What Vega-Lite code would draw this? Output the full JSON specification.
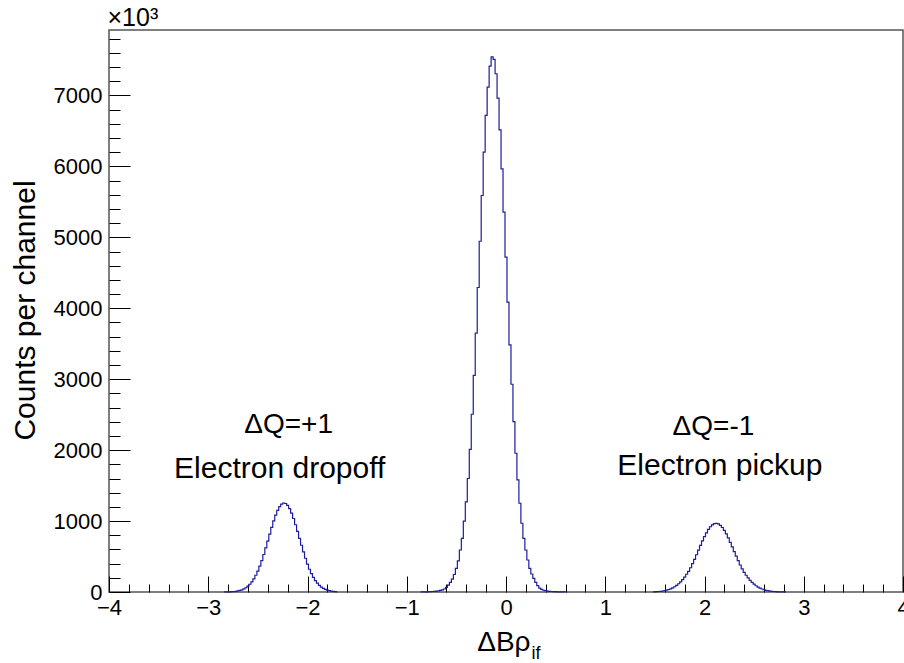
{
  "$schema": "https://vega.github.io/schema/vega-lite/v6.json",
  "width": 794,
  "height": 562,
  "autosize": {"type": "none"},
  "padding": {"left": 109, "top": 30, "right": 1, "bottom": 71},
  "background": "white",
  "config": {
    "aria": false,
    "font": "Liberation Sans",
    "view": {"stroke": "#555555", "strokeWidth": 1.5}
  },
  "resolve": {"axis": {"x": "independent", "y": "independent"}},
  "layer": [
    {
      "data": {"values": [
        {"p":"a","x":-2.84,"n":1},{"p":"a","x":-2.82,"n":2},{"p":"a","x":-2.80,"n":2},{"p":"a","x":-2.78,"n":3},{"p":"a","x":-2.76,"n":4},{"p":"a","x":-2.74,"n":6},{"p":"a","x":-2.72,"n":10},{"p":"a","x":-2.70,"n":15},{"p":"a","x":-2.68,"n":22},{"p":"a","x":-2.66,"n":31},{"p":"a","x":-2.64,"n":44},{"p":"a","x":-2.62,"n":60},{"p":"a","x":-2.60,"n":82},{"p":"a","x":-2.58,"n":109},{"p":"a","x":-2.56,"n":143},{"p":"a","x":-2.54,"n":186},{"p":"a","x":-2.52,"n":236},{"p":"a","x":-2.50,"n":295},{"p":"a","x":-2.48,"n":364},{"p":"a","x":-2.46,"n":442},{"p":"a","x":-2.44,"n":529},{"p":"a","x":-2.42,"n":621},{"p":"a","x":-2.40,"n":718},{"p":"a","x":-2.38,"n":815},{"p":"a","x":-2.36,"n":911},{"p":"a","x":-2.34,"n":1002},{"p":"a","x":-2.32,"n":1084},{"p":"a","x":-2.30,"n":1152},{"p":"a","x":-2.28,"n":1205},{"p":"a","x":-2.26,"n":1240},{"p":"a","x":-2.24,"n":1255},{"p":"a","x":-2.22,"n":1248},{"p":"a","x":-2.20,"n":1222},{"p":"a","x":-2.18,"n":1176},{"p":"a","x":-2.16,"n":1113},{"p":"a","x":-2.14,"n":1036},{"p":"a","x":-2.12,"n":948},{"p":"a","x":-2.10,"n":854},{"p":"a","x":-2.08,"n":757},{"p":"a","x":-2.06,"n":659},{"p":"a","x":-2.04,"n":565},{"p":"a","x":-2.02,"n":476},{"p":"a","x":-2.00,"n":394},{"p":"a","x":-1.98,"n":321},{"p":"a","x":-1.96,"n":258},{"p":"a","x":-1.94,"n":205},{"p":"a","x":-1.92,"n":160},{"p":"a","x":-1.90,"n":124},{"p":"a","x":-1.88,"n":94},{"p":"a","x":-1.86,"n":70},{"p":"a","x":-1.84,"n":52},{"p":"a","x":-1.82,"n":38},{"p":"a","x":-1.80,"n":27},{"p":"a","x":-1.78,"n":19},{"p":"a","x":-1.76,"n":13},{"p":"a","x":-1.74,"n":8},{"p":"a","x":-1.72,"n":5},{"p":"a","x":-1.70,"n":3},
        {"p":"b","x":-0.86,"n":2},{"p":"b","x":-0.84,"n":2},{"p":"b","x":-0.82,"n":3},{"p":"b","x":-0.80,"n":3},{"p":"b","x":-0.78,"n":4},{"p":"b","x":-0.76,"n":5},{"p":"b","x":-0.74,"n":7},{"p":"b","x":-0.72,"n":9},{"p":"b","x":-0.70,"n":12},{"p":"b","x":-0.68,"n":16},{"p":"b","x":-0.66,"n":22},{"p":"b","x":-0.64,"n":30},{"p":"b","x":-0.62,"n":42},{"p":"b","x":-0.60,"n":65},{"p":"b","x":-0.58,"n":96},{"p":"b","x":-0.56,"n":135},{"p":"b","x":-0.54,"n":181},{"p":"b","x":-0.52,"n":247},{"p":"b","x":-0.50,"n":334},{"p":"b","x":-0.48,"n":440},{"p":"b","x":-0.46,"n":592},{"p":"b","x":-0.44,"n":757},{"p":"b","x":-0.42,"n":1000},{"p":"b","x":-0.40,"n":1270},{"p":"b","x":-0.38,"n":1600},{"p":"b","x":-0.36,"n":2010},{"p":"b","x":-0.34,"n":2506},{"p":"b","x":-0.32,"n":3053},{"p":"b","x":-0.30,"n":3650},{"p":"b","x":-0.28,"n":4293},{"p":"b","x":-0.26,"n":4945},{"p":"b","x":-0.24,"n":5590},{"p":"b","x":-0.22,"n":6202},{"p":"b","x":-0.20,"n":6718},{"p":"b","x":-0.18,"n":7118},{"p":"b","x":-0.16,"n":7415},{"p":"b","x":-0.14,"n":7545},{"p":"b","x":-0.12,"n":7510},{"p":"b","x":-0.10,"n":7306},{"p":"b","x":-0.08,"n":6963},{"p":"b","x":-0.06,"n":6516},{"p":"b","x":-0.04,"n":5966},{"p":"b","x":-0.02,"n":5355},{"p":"b","x":0.00,"n":4722},{"p":"b","x":0.02,"n":4087},{"p":"b","x":0.04,"n":3484},{"p":"b","x":0.06,"n":2929},{"p":"b","x":0.08,"n":2402},{"p":"b","x":0.10,"n":1956},{"p":"b","x":0.12,"n":1580},{"p":"b","x":0.14,"n":1251},{"p":"b","x":0.16,"n":969},{"p":"b","x":0.18,"n":757},{"p":"b","x":0.20,"n":592},{"p":"b","x":0.22,"n":451},{"p":"b","x":0.24,"n":334},{"p":"b","x":0.26,"n":254},{"p":"b","x":0.28,"n":193},{"p":"b","x":0.30,"n":137},{"p":"b","x":0.32,"n":89},{"p":"b","x":0.34,"n":56},{"p":"b","x":0.36,"n":36},{"p":"b","x":0.38,"n":25},{"p":"b","x":0.40,"n":18},{"p":"b","x":0.42,"n":13},{"p":"b","x":0.44,"n":10},{"p":"b","x":0.46,"n":7},{"p":"b","x":0.48,"n":5},{"p":"b","x":0.50,"n":4},{"p":"b","x":0.52,"n":3},{"p":"b","x":0.54,"n":3},{"p":"b","x":0.56,"n":2},{"p":"b","x":0.58,"n":2},{"p":"b","x":0.60,"n":1},
        {"p":"c","x":1.48,"n":2},{"p":"c","x":1.50,"n":3},{"p":"c","x":1.52,"n":5},{"p":"c","x":1.54,"n":7},{"p":"c","x":1.56,"n":10},{"p":"c","x":1.58,"n":14},{"p":"c","x":1.60,"n":19},{"p":"c","x":1.62,"n":26},{"p":"c","x":1.64,"n":35},{"p":"c","x":1.66,"n":45},{"p":"c","x":1.68,"n":58},{"p":"c","x":1.70,"n":74},{"p":"c","x":1.72,"n":93},{"p":"c","x":1.74,"n":116},{"p":"c","x":1.76,"n":143},{"p":"c","x":1.78,"n":175},{"p":"c","x":1.80,"n":210},{"p":"c","x":1.82,"n":250},{"p":"c","x":1.84,"n":292},{"p":"c","x":1.86,"n":342},{"p":"c","x":1.88,"n":399},{"p":"c","x":1.90,"n":461},{"p":"c","x":1.92,"n":525},{"p":"c","x":1.94,"n":590},{"p":"c","x":1.96,"n":656},{"p":"c","x":1.98,"n":720},{"p":"c","x":2.00,"n":780},{"p":"c","x":2.02,"n":834},{"p":"c","x":2.04,"n":882},{"p":"c","x":2.06,"n":920},{"p":"c","x":2.08,"n":947},{"p":"c","x":2.10,"n":964},{"p":"c","x":2.12,"n":968},{"p":"c","x":2.14,"n":960},{"p":"c","x":2.16,"n":940},{"p":"c","x":2.18,"n":909},{"p":"c","x":2.20,"n":868},{"p":"c","x":2.22,"n":819},{"p":"c","x":2.24,"n":763},{"p":"c","x":2.26,"n":701},{"p":"c","x":2.28,"n":637},{"p":"c","x":2.30,"n":570},{"p":"c","x":2.32,"n":505},{"p":"c","x":2.34,"n":442},{"p":"c","x":2.36,"n":381},{"p":"c","x":2.38,"n":325},{"p":"c","x":2.40,"n":276},{"p":"c","x":2.42,"n":236},{"p":"c","x":2.44,"n":198},{"p":"c","x":2.46,"n":165},{"p":"c","x":2.48,"n":135},{"p":"c","x":2.50,"n":110},{"p":"c","x":2.52,"n":88},{"p":"c","x":2.54,"n":70},{"p":"c","x":2.56,"n":55},{"p":"c","x":2.58,"n":42},{"p":"c","x":2.60,"n":32},{"p":"c","x":2.62,"n":24},{"p":"c","x":2.64,"n":18},{"p":"c","x":2.66,"n":13},{"p":"c","x":2.68,"n":9},{"p":"c","x":2.70,"n":7},{"p":"c","x":2.72,"n":5},{"p":"c","x":2.74,"n":3},{"p":"c","x":2.76,"n":2},{"p":"c","x":2.78,"n":2},{"p":"c","x":2.80,"n":1},{"p":"c","x":2.82,"n":1}
      ]},
      "mark": {"type": "line", "interpolate": "step", "color": "#1c1ca0", "strokeWidth": 1.2, "aria": false},
      "encoding": {
        "x": {
          "field": "x", "type": "quantitative",
          "scale": {"domain": [-4, 4], "nice": false, "zero": false},
          "axis": {
            "orient": "bottom",
            "values": [-4, -3, -2, -1, 0, 1, 2, 3, 4],
            "format": "d",
            "domain": false, "grid": false,
            "tickSize": -16, "tickColor": "#000000", "tickWidth": 1,
            "labelFontSize": 22, "labelColor": "#000000", "labelPadding": 21,
            "labelFlush": false, "labelOverlap": false, "labelBound": false,
            "title": "ΔBρ", "titleFontSize": 28, "titleFontWeight": "normal", "titleColor": "#000000",
            "titleAlign": "right", "titleBaseline": "alphabetic",
            "titleX": 421, "titleY": 58
          }
        },
        "y": {
          "field": "n", "type": "quantitative",
          "scale": {"domain": [0, 7923], "nice": false, "zero": true},
          "axis": {
            "orient": "left",
            "values": [0, 1000, 2000, 3000, 4000, 5000, 6000, 7000],
            "format": "d",
            "domain": false, "grid": false,
            "tickSize": -21, "tickColor": "#000000", "tickWidth": 1,
            "labelFontSize": 22, "labelColor": "#000000", "labelPadding": 28,
            "labelOverlap": false, "labelBound": false,
            "title": "Counts per channel", "titleFontSize": 30, "titleFontWeight": "normal", "titleColor": "#000000",
            "titleAngle": -90, "titleAlign": "center", "titleBaseline": "middle",
            "titleX": -84, "titleY": 280
          }
        },
        "detail": {"field": "p"}
      }
    },
    {
      "data": {"values": [
        {"label": "ΔQ=+1", "x": -2.19, "y": 2360, "s": "q"},
        {"label": "Electron dropoff", "x": -2.28, "y": 1730, "s": "e"},
        {"label": "ΔQ=-1", "x": 2.09, "y": 2330, "s": "q"},
        {"label": "Electron pickup", "x": 2.155, "y": 1775, "s": "e"}
      ]},
      "mark": {"type": "text", "align": "center", "baseline": "middle", "color": "#000000", "aria": false},
      "encoding": {
        "text": {"field": "label"},
        "size": {"field": "s", "type": "nominal", "scale": {"domain": ["q", "e"], "range": [28, 30]}, "legend": null},
        "x": {
          "field": "x", "type": "quantitative",
          "axis": {
            "orient": "bottom",
            "values": [-3.8,-3.6,-3.4,-3.2,-2.8,-2.6,-2.4,-2.2,-1.8,-1.6,-1.4,-1.2,-0.8,-0.6,-0.4,-0.2,0.2,0.4,0.6,0.8,1.2,1.4,1.6,1.8,2.2,2.4,2.6,2.8,3.2,3.4,3.6,3.8],
            "labels": false, "domain": false, "grid": false,
            "tickSize": -8, "tickColor": "#000000", "tickWidth": 1,
            "title": "i\u200cf", "titleFontSize": 18, "titleFontWeight": "normal", "titleColor": "#000000",
            "titleAlign": "left", "titleBaseline": "alphabetic",
            "titleX": 422, "titleY": 66
          }
        },
        "y": {
          "field": "y", "type": "quantitative",
          "axis": {
            "orient": "left",
            "values": [200,400,600,800,1200,1400,1600,1800,2200,2400,2600,2800,3200,3400,3600,3800,4200,4400,4600,4800,5200,5400,5600,5800,6200,6400,6600,6800,7200,7400,7600,7800],
            "labels": false, "domain": false, "grid": false,
            "tickSize": -11, "tickColor": "#000000", "tickWidth": 1,
            "title": "×10³", "titleFontSize": 25, "titleFontWeight": "normal", "titleColor": "#000000",
            "titleAngle": 0, "titleAlign": "left", "titleBaseline": "alphabetic",
            "titleX": -2, "titleY": -5
          }
        }
      }
    }
  ]
}
